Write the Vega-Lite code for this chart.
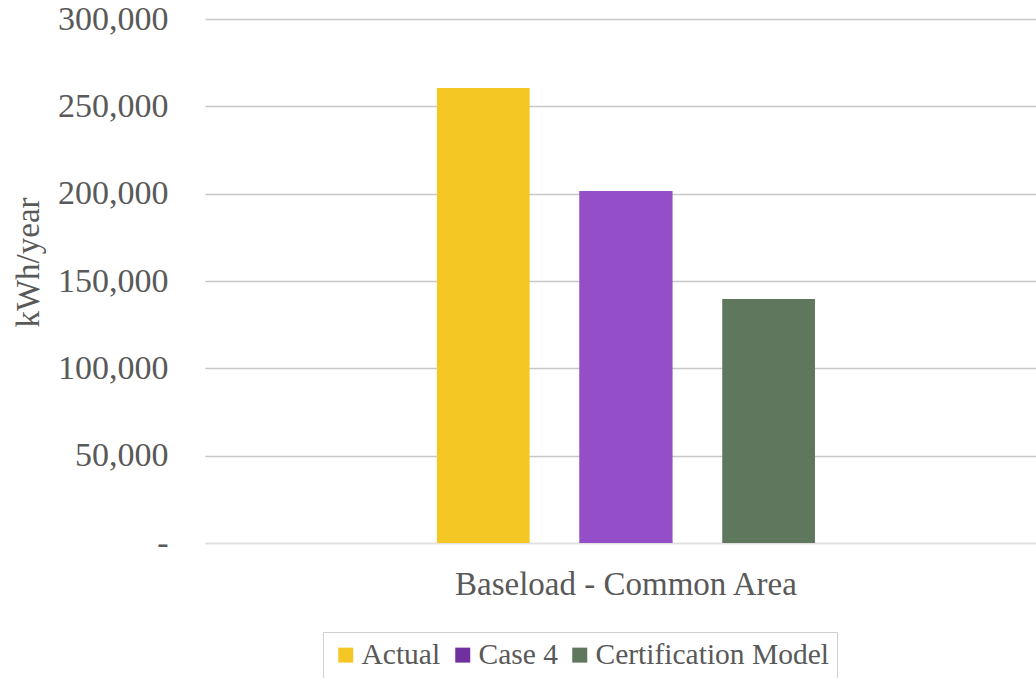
{
  "$schema": "https://vega.github.io/schema/vega-lite/v6.json",
  "width": 831,
  "height": 524,
  "autosize": {"type": "none"},
  "padding": {"left": 205, "top": 19, "right": 0, "bottom": 135},
  "background": "white",
  "data": {
    "values": [
      {"category": "Baseload - Common Area", "series": "Actual", "kwh": 260500},
      {"category": "Baseload - Common Area", "series": "Case 4", "kwh": 201500},
      {"category": "Baseload - Common Area", "series": "Certification Model", "kwh": 139700}
    ]
  },
  "config": {
    "font": "Liberation Serif",
    "view": {"stroke": null},
    "axis": {"labelFont": "Liberation Serif", "titleFont": "Liberation Serif"},
    "legend": {"labelFont": "Liberation Serif"}
  },
  "layer": [
    {
      "mark": {"type": "bar"},
      "encoding": {
        "x": {
          "field": "category",
          "type": "nominal",
          "scale": {"paddingInner": 0, "paddingOuter": 0.599, "align": 0.512},
          "axis": {
            "title": null,
            "labelFontSize": 33,
            "labelColor": "#595959",
            "labelPadding": 51,
            "labelBaseline": "alphabetic",
            "labelAngle": 0,
            "labelLimit": 700,
            "ticks": false,
            "grid": false,
            "domainColor": "#e0e0e0",
            "domainWidth": 1.5
          }
        },
        "xOffset": {
          "field": "series",
          "type": "nominal",
          "sort": ["Actual", "Case 4", "Certification Model"],
          "scale": {"paddingInner": 0.35, "paddingOuter": 0}
        },
        "y": {
          "field": "kwh",
          "type": "quantitative",
          "scale": {"domain": [0, 300000]},
          "axis": {
            "title": "kWh/year",
            "titleFontSize": 33,
            "titleColor": "#595959",
            "titleFontWeight": "normal",
            "titleAngle": -90,
            "titleX": -167,
            "titleY": 243,
            "titleBaseline": "alphabetic",
            "titleAlign": "center",
            "values": [0, 50000, 100000, 150000, 200000, 250000, 300000],
            "labelExpr": "datum.value === 0 ? '-\u00a0\u00a0' : format(datum.value, ',')",
            "labelFontSize": 34,
            "labelColor": "#595959",
            "labelPadding": 37,
            "ticks": false,
            "domain": false,
            "gridColor": {"condition": {"test": "datum.value === 0", "value": "#e0e0e0"}, "value": "#c8c8c8"},
            "gridWidth": 1.3
          }
        },
        "color": {
          "field": "series",
          "type": "nominal",
          "sort": ["Actual", "Case 4", "Certification Model"],
          "scale": {"domain": ["Actual", "Case 4", "Certification Model"], "range": ["#F4C724", "#7030A0", "#5E775D"]},
          "legend": {
            "orient": "none",
            "legendX": 118,
            "legendY": 613,
            "direction": "horizontal",
            "title": null,
            "symbolType": "square",
            "symbolSize": 225,
            "symbolStrokeWidth": 0,
            "symbolOpacity": 1,
            "labelFontSize": 29.5,
            "labelColor": "#595959",
            "labelOffset": 1,
            "labelLimit": 400,
            "columnPadding": 7,
            "padding": 8,
            "strokeColor": "#d0d0d0",
            "fillColor": "white"
          }
        }
      }
    },
    {
      "transform": [{"filter": "datum.series === 'Case 4'"}],
      "mark": {"type": "bar", "color": "#944FC8"},
      "encoding": {
        "x": {"field": "category", "type": "nominal"},
        "xOffset": {"field": "series", "type": "nominal", "sort": ["Actual", "Case 4", "Certification Model"]},
        "y": {"field": "kwh", "type": "quantitative"}
      }
    }
  ]
}
